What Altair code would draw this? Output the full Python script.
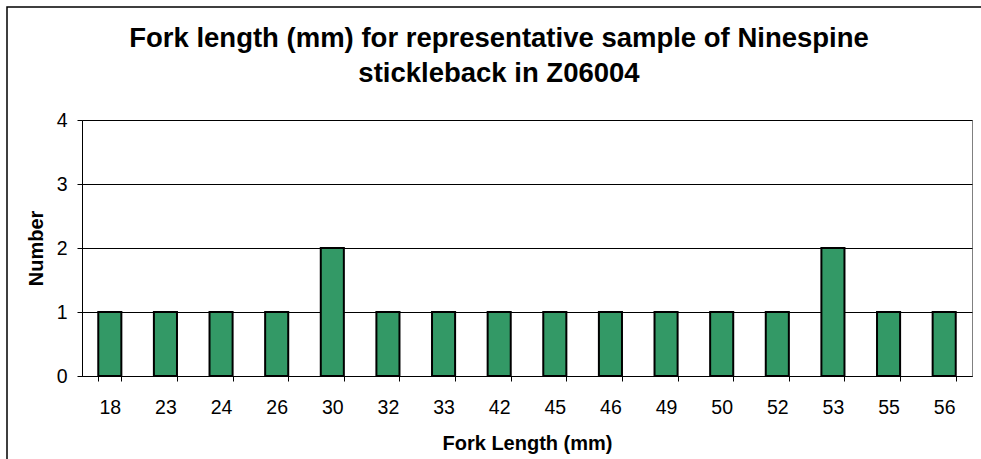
import altair as alt
import pandas as pd

# Fork length classes (mm) and number of fish in each
fork_lengths = ["18", "23", "24", "26", "30", "32", "33", "42", "45", "46",
                "49", "50", "52", "53", "55", "56"]
counts = [1, 1, 1, 1, 2, 1, 1, 1, 1, 1, 1, 1, 1, 2, 1, 1]
y_ticks = [0, 1, 2, 3, 4]

df = pd.DataFrame({"length": fork_lengths, "count": counts})

FONT = "Liberation Sans"
W, H = 890, 256

bars = alt.Chart(df).mark_bar(
    fill="#339966", stroke="#000000", strokeWidth=2
).encode(
    x=alt.X(
        "length:N",
        sort=fork_lengths,
        scale=alt.Scale(paddingInner=0.585, paddingOuter=0.2925),
        axis=alt.Axis(
            title="Fork Length (mm)",
            labelAngle=0,
            tickBand="extent",
            tickSize=5,
            labelPadding=17,
            labelFontSize=19.5,
            titleFontSize=20,
            titleFontWeight="bold",
            titleY=73,
            titleBaseline="alphabetic",
            domainColor="#000000",
            tickColor="#000000",
            labelColor="#000000",
            titleColor="#000000",
            grid=False,
        ),
    ),
    y=alt.Y(
        "count:Q",
        scale=alt.Scale(domain=[0, 4], nice=False),
        axis=alt.Axis(
            title="Number",
            values=y_ticks,
            format="d",
            tickSize=5,
            labelPadding=10,
            labelFontSize=19.5,
            titleFontSize=20,
            titleFontWeight="bold",
            titleX=-40,
            titleY=H / 2,
            titleAngle=-90,
            titleAlign="center",
            titleBaseline="alphabetic",
            grid=True,
            gridColor="#000000",
            gridWidth=1,
            domainColor="#000000",
            tickColor="#000000",
            labelColor="#000000",
            titleColor="#000000",
        ),
    ),
)

# Outer chart frame
frame = alt.Chart(pd.DataFrame({"k": [0]})).mark_rect(
    fill=None, stroke="#000000", strokeWidth=1.5, clip=False
).encode(
    x=alt.value(-75), x2=alt.value(W + 40),
    y=alt.value(-113), y2=alt.value(H + 120),
)

chart = alt.layer(frame, bars).properties(
    width=W,
    height=H,
    title=alt.Title(
        ["Fork length (mm) for representative sample of Ninespine",
         "stickleback in Z06004"],
        font=FONT,
        fontSize=27.5,
        fontWeight="bold",
        color="#000000",
        lineHeight=35,
        anchor="middle",
        baseline="alphabetic",
        dx=-28,
        offset=-103,
    ),
    autosize=alt.AutoSizeParams(type="none"),
    padding={"left": 82, "top": 120, "right": 9, "bottom": 83},
    background="#ffffff",
).configure(
    font=FONT,
).configure_view(
    stroke="#808080",
    strokeWidth=1,
).configure_axis(
    labelFont=FONT,
    titleFont=FONT,
)

chart.save("out.html", embed_options={"renderer": "svg", "actions": False})
